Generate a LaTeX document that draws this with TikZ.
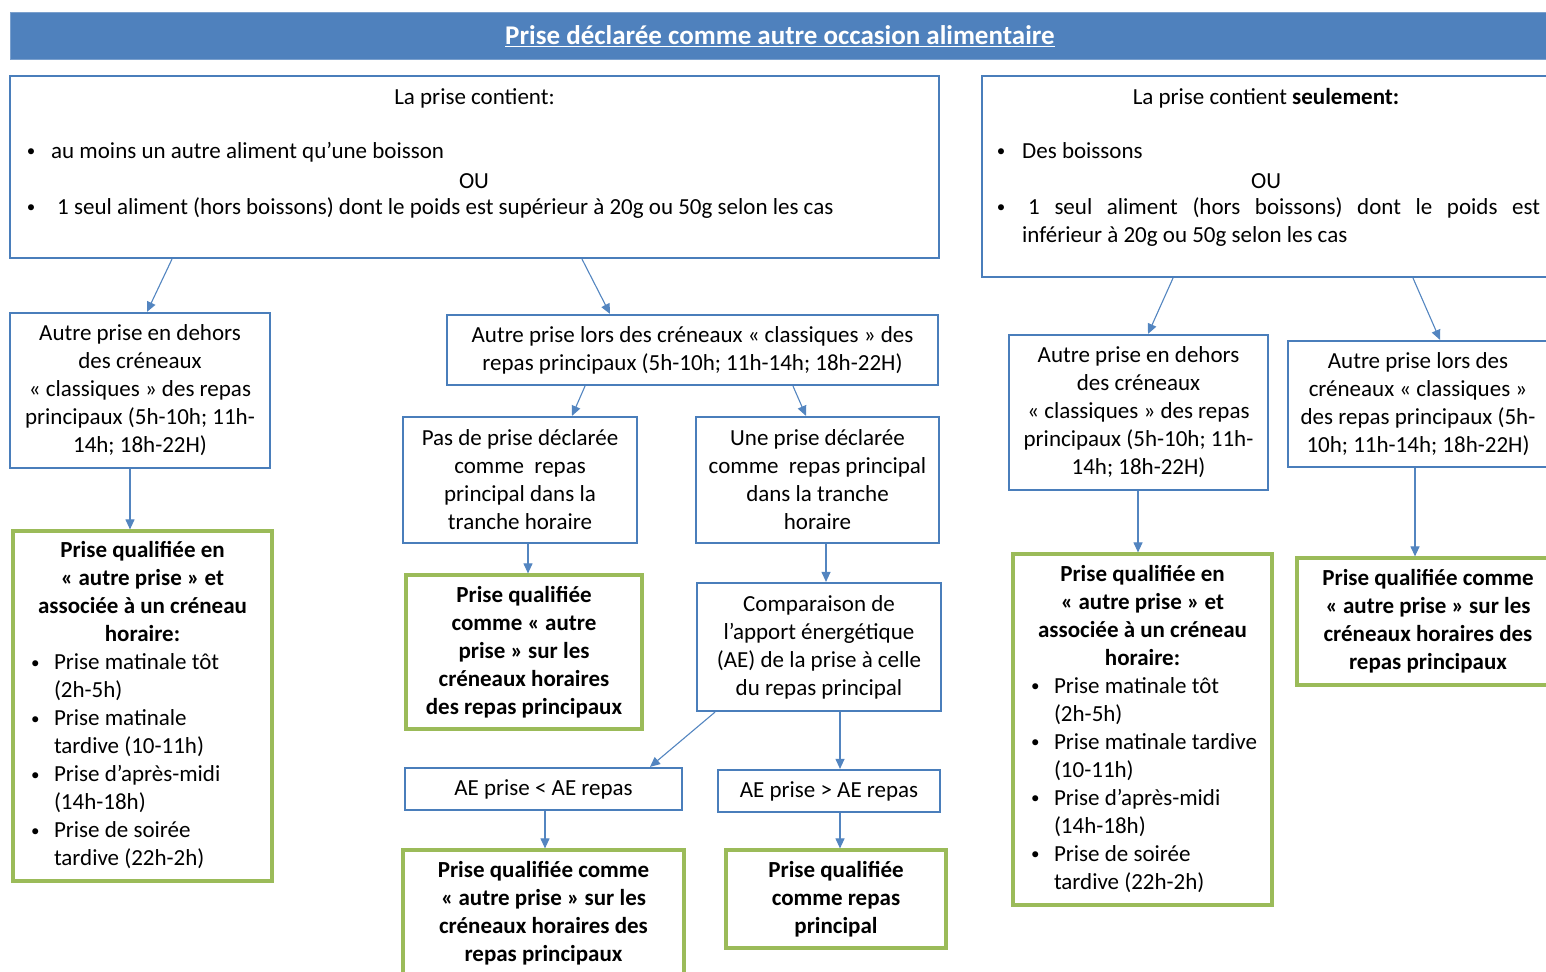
\documentclass[tikz,border=0pt]{standalone}
\usepackage{fontspec}
\setmainfont{Carlito}
\usetikzlibrary{arrows.meta}

\definecolor{barblue}{HTML}{4F81BD}
\definecolor{boxblue}{HTML}{4A7EBB}
\definecolor{boxgreen}{HTML}{9BBB59}
\definecolor{arrowblue}{HTML}{5385C0}
\newcommand{\boxfont}{\fontsize{23pt}{28pt}\selectfont}
\newcommand{\puc}{\raisebox{1.5pt}{\fontsize{17pt}{17pt}\selectfont\textbullet}}
\newcommand{\puceligne}[2]{\makebox[25pt][l]{\mdseries\hspace{2pt}\puc} & \makebox[202pt][l]{\mdseries #1}\\ & \makebox[202pt][l]{\mdseries #2}\\}
\newcommand{\entete}[1]{\multicolumn{2}{@{}c@{}}{#1}\\}

\tikzset{
  bluebox/.style={draw=boxblue, line width=2.2pt, inner sep=0pt, align=center},
  greenbox/.style={draw=boxgreen, line width=3.2pt, inner sep=0pt, align=center, font=\boxfont\bfseries},
  txt/.style={inner sep=0pt, anchor=west, text height=16pt, text depth=5pt},
  puce/.style={inner sep=0pt},
  arr/.style={arrowblue, line width=1.1pt, -{Triangle[length=10pt,width=9pt]}},
}

\begin{document}
\begin{tikzpicture}[x=1pt, y=-1pt, font=\boxfont]
\useasboundingbox (0,0) rectangle (1546,971);
\clip (0,0) rectangle (1546,971);

% bandeau
\node[fill=barblue, draw=barblue!75!white, line width=1pt, minimum width=1540pt, minimum height=47pt, inner sep=0pt, text=white, font=\fontsize{27pt}{30pt}\selectfont\bfseries] (titre) at (780,36.5) {\underline{Prise déclarée comme autre occasion alimentaire}};

% cadre gauche
\node[bluebox, minimum width=929pt, minimum height=182pt] (top1) at (474.5,167) {};
\node[puce] (top1tete) at (474.5,98) {La prise contient:};
\node[puce] (top1p1) at (31,153) {\puc};
\node[txt] (top1l1) at (51,153) {au moins un autre aliment qu’une boisson};
\node[puce] (top1ou) at (474,181) {OU};
\node[puce] (top1p2) at (31,209) {\puc};
\node[txt] (top1l2) at (57,209) {1 seul aliment (hors boissons) dont le poids est supérieur à 20g ou 50g selon les cas};

% cadre droit
\node[bluebox, minimum width=568pt, minimum height=201pt] (top2) at (1266,176.5) {};
\node[puce] (top2tete) at (1266,98) {La prise contient \textbf{seulement:}};
\node[puce] (top2p1) at (1001,153) {\puc};
\node[txt] (top2l1) at (1022,153) {Des boissons};
\node[puce] (top2ou) at (1266,181) {OU};
\node[puce] (top2p2) at (1001,209) {\puc};
\node[txt] (top2l2) at (1028,209) {\makebox[512pt][s]{1 seul aliment (hors boissons) dont le poids est}};
\node[txt] (top2l3) at (1022,237) {inférieur à 20g ou 50g selon les cas};

% branche gauche
\node[bluebox, minimum width=260pt, minimum height=155pt] (dehors1) at (140,390.5) {Autre prise en dehors\\des créneaux\\« classiques » des repas\\principaux (5h-10h; 11h-\\14h; 18h-22H)};
\node[greenbox, minimum width=259pt, minimum height=350pt] (qualcren1) at (142.5,706) {%
  \begin{tabular}{@{}l@{}l@{}}
  \entete{Prise qualifiée en}
  \entete{« autre prise » et}
  \entete{associée à un créneau}
  \entete{horaire:}
  \puceligne{Prise matinale tôt}{(2h-5h)}
  \puceligne{Prise matinale}{tardive (10-11h)}
  \puceligne{Prise d’après-midi}{(14h-18h)}
  \puceligne{Prise de soirée}{tardive (22h-2h)}
  \end{tabular}};

% branche du milieu
\node[bluebox, minimum width=491pt, minimum height=70pt] (lors1) at (692.5,350) {Autre prise lors des créneaux « classiques » des\\repas principaux (5h-10h; 11h-14h; 18h-22H)};
\node[bluebox, minimum width=234pt, minimum height=126pt] (pasde) at (520,480) {Pas de prise déclarée\\comme\ \ repas\\principal dans la\\tranche horaire};
\node[bluebox, minimum width=243pt, minimum height=126pt] (une) at (817.5,480) {Une prise déclarée\\comme\ \ repas principal\\dans la tranche\\horaire};
\node[greenbox, minimum width=236pt, minimum height=154pt] (qualautre1) at (524,652) {Prise qualifiée\\comme « autre\\prise » sur les\\créneaux horaires\\des repas principaux};
\node[bluebox, minimum width=244pt, minimum height=128pt] (compar) at (819,647) {Comparaison de\\l’apport énergétique\\(AE) de la prise à celle\\du repas principal};
\node[bluebox, minimum width=277pt, minimum height=42pt] (aeinf) at (543.5,789) {AE prise < AE repas};
\node[bluebox, minimum width=222pt, minimum height=42pt] (aesup) at (829,791) {AE prise > AE repas};
\node[greenbox, minimum width=281pt, minimum height=126pt] (qualautre2) at (543.5,913) {Prise qualifiée comme\\« autre prise » sur les\\créneaux horaires des\\repas principaux};
\node[greenbox, minimum width=220pt, minimum height=98pt] (qualrepas) at (836,899) {Prise qualifiée\\comme repas\\principal};

% branche droite
\node[bluebox, minimum width=259pt, minimum height=155pt] (dehors2) at (1138.5,412.5) {Autre prise en dehors\\des créneaux\\« classiques » des repas\\principaux (5h-10h; 11h-\\14h; 18h-22H)};
\node[bluebox, minimum width=260pt, minimum height=126pt] (lors2) at (1418,404) {Autre prise lors des\\créneaux « classiques »\\des repas principaux (5h-\\10h; 11h-14h; 18h-22H)};
\node[greenbox, minimum width=259pt, minimum height=351pt] (qualcren2) at (1142.5,729.5) {%
  \begin{tabular}{@{}l@{}l@{}}
  \entete{Prise qualifiée en}
  \entete{« autre prise » et}
  \entete{associée à un créneau}
  \entete{horaire:}
  \puceligne{Prise matinale tôt}{(2h-5h)}
  \puceligne{Prise matinale tardive}{(10-11h)}
  \puceligne{Prise d’après-midi}{(14h-18h)}
  \puceligne{Prise de soirée}{tardive (22h-2h)}
  \end{tabular}};
\node[greenbox, minimum width=262pt, minimum height=127pt] (qualautre3) at (1428,621.5) {Prise qualifiée comme\\« autre prise » sur les\\créneaux horaires des\\repas principaux};

% fleches
\draw[arr] ([xshift=-302.5pt]top1.south) -- ([xshift=7pt]dehors1.north);
\draw[arr] ([xshift=107.5pt]top1.south) -- ([xshift=-82.5pt]lors1.north);
\draw[arr] ([xshift=-107.5pt]lors1.south) -- ([xshift=52pt]pasde.north);
\draw[arr] ([xshift=100.5pt]lors1.south) -- ([xshift=-11.5pt]une.north);
\draw[arr] ([xshift=-10pt]dehors1.south) -- ([xshift=-12.5pt]qualcren1.north);
\draw[arr] ([xshift=8pt]pasde.south) -- ([xshift=4pt]qualautre1.north);
\draw[arr] ([xshift=8.5pt]une.south) -- ([xshift=7pt]compar.north);
\draw[arr] ([xshift=-104pt]compar.south) -- ([xshift=106.5pt]aeinf.north);
\draw[arr] ([xshift=21pt]compar.south) -- ([xshift=11pt]aesup.north);
\draw[arr] ([xshift=1.5pt]aeinf.south) -- ([xshift=1.5pt]qualautre2.north);
\draw[arr] ([xshift=11pt]aesup.south) -- ([xshift=4pt]qualrepas.north);
\draw[arr] ([xshift=-93pt]top2.south) -- ([xshift=9.5pt]dehors2.north);
\draw[arr] ([xshift=147pt]top2.south) -- ([xshift=22pt]lors2.north);
\draw[arr] ([xshift=-0.5pt]dehors2.south) -- ([xshift=-4.5pt]qualcren2.north);
\draw[arr] ([xshift=-3pt]lors2.south) -- ([xshift=-13pt]qualautre3.north);
\end{tikzpicture}
\end{document}
